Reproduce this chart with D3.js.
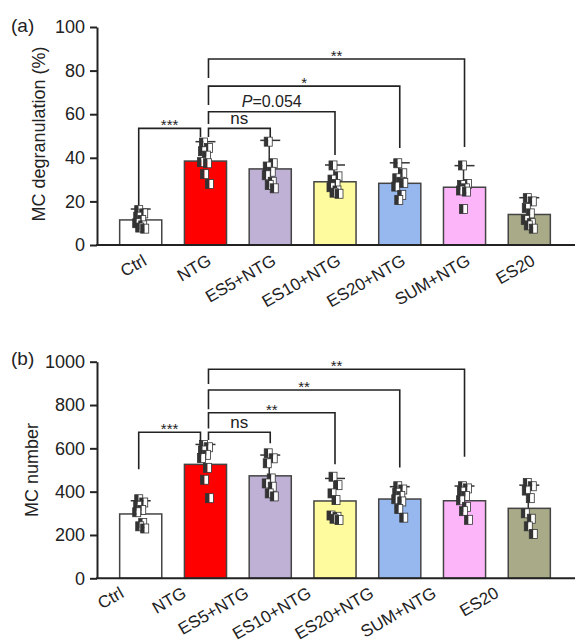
<!DOCTYPE html>
<html>
<head>
<meta charset="utf-8">
<script src="https://cdn.jsdelivr.net/npm/d3@7"></script>
<style>
  body { margin: 0; background: #fff; }
  text { font-family: "Liberation Sans", Arial, sans-serif; fill: #222; }
</style>
</head>
<body>
<div id="chart"></div>
<script>
// groups and bar colours
var groups = ["Ctrl", "NTG", "ES5+NTG", "ES10+NTG", "ES20+NTG", "SUM+NTG", "ES20"];
var colors = ["#ffffff", "#ff0000", "#bfb1d5", "#fdfb9e", "#97b8ee", "#fdb5fa", "#a9aa88"];

// (a) MC degranulation (%)
var degMean = [11.5, 38.5, 34.9, 29, 28.3, 26.5, 14];
var degSD = [5, 8.9, 13.1, 7.7, 9.4, 9.9, 7.7];
var degPoints = [
  [16, 14.5, 13, 11.5, 10, 9, 8, 7.5],
  [47, 44.5, 43, 41, 38, 37.5, 32.5, 28],
  [47.4, 37.5, 36, 33.6, 32, 29, 27.5, 26],
  [36.5, 31.5, 30, 28, 26.5, 25, 24, 23.5],
  [37.5, 32.9, 30.6, 29, 26.8, 23, 20.6, 28.5],
  [36.5, 28, 27.5, 26, 25, 24.5, 16.5],
  [21.5, 20, 17, 14.5, 11.5, 10, 9, 7.5]
];
var degTicks = [0, 20, 40, 60, 80, 100];
var degBrackets = [
  {from: "Ctrl", to: "NTG", y: 53.5, left: 18.3, right: 49.5, label: "***"},
  {from: "NTG", to: "ES5+NTG", y: 53.5, left: 49.5, right: 49.5, label: "ns"},
  {from: "NTG", to: "ES10+NTG", y: 61.1, left: 55.5, right: 41.3, label: "P=0.054"},
  {from: "NTG", to: "ES20+NTG", y: 72.9, left: 64.2, right: 44.5, label: "*"},
  {from: "NTG", to: "SUM+NTG", y: 85.3, left: 76.6, right: 45, label: "**"}
];

// (b) MC number
var numMean = [297, 526, 473, 357, 366, 358, 323];
var numSD = [61, 92, 96, 104, 57, 68, 107];
var numPoints = [
  [365, 350, 335, 315, 305, 255, 240, 230],
  [615, 605, 590, 570, 555, 510, 455, 370],
  [577, 554, 531, 461, 438, 423, 392, 378],
  [469, 430, 392, 361, 290, 284, 275, 269],
  [425, 410, 395, 380, 365, 355, 320, 280],
  [425, 415, 400, 380, 360, 330, 310, 270],
  [440, 425, 405, 370, 300, 275, 240, 205]
];
var numTicks = [0, 200, 400, 600, 800, 1000];
var numBrackets = [
  {from: "Ctrl", to: "NTG", y: 674, left: 504, right: 634, label: "***"},
  {from: "NTG", to: "ES5+NTG", y: 674, left: 638, right: 624, label: "ns"},
  {from: "NTG", to: "ES10+NTG", y: 764, left: 692, right: 527, label: "**"},
  {from: "NTG", to: "ES20+NTG", y: 869, left: 781, right: 512, label: "**"},
  {from: "NTG", to: "SUM+NTG", y: 965, left: 897, right: 561, label: "**"}
];

// small horizontal scatter of the dots
var jitter = [-2, 3, -3, 1, -4, 2, -1, 4];

var width = 575, height = 643;

var svg = d3.select("#chart")
  .append("svg")
    .attr("width", width)
    .attr("height", height);

var x = d3.scaleBand()
  .domain(groups)
  .range([97, 573])
  .padding(0.35);

function drawPanel(o) {
  var g = svg.append("g");

  var y = d3.scaleLinear()
    .domain([0, o.max])
    .range([o.bottom, o.top]);

  // bars
  g.selectAll("rect.bar")
    .data(groups)
    .enter()
    .append("rect")
      .attr("class", "bar")
      .attr("x", function(d) { return x(d); })
      .attr("y", function(d, i) { return y(o.mean[i]); })
      .attr("width", x.bandwidth())
      .attr("height", function(d, i) { return o.bottom - y(o.mean[i]); })
      .attr("fill", function(d, i) { return colors[i]; })
      .attr("stroke", "#444")
      .attr("stroke-width", 1.5);

  // error bars (upper half only)
  var eb = g.selectAll("g.err")
    .data(groups)
    .enter()
    .append("g");
  eb.append("line")
    .attr("x1", function(d) { return x(d) + x.bandwidth() / 2 - 1; })
    .attr("x2", function(d) { return x(d) + x.bandwidth() / 2 - 1; })
    .attr("y1", function(d, i) { return y(o.mean[i]); })
    .attr("y2", function(d, i) { return y(o.mean[i] + o.sd[i]); })
    .attr("stroke", "#333").attr("stroke-width", 1.5);
  eb.append("line")
    .attr("x1", function(d) { return x(d) + x.bandwidth() / 2 - 10; })
    .attr("x2", function(d) { return x(d) + x.bandwidth() / 2 + 10; })
    .attr("y1", function(d, i) { return y(o.mean[i] + o.sd[i]); })
    .attr("y2", function(d, i) { return y(o.mean[i] + o.sd[i]); })
    .attr("stroke", "#333").attr("stroke-width", 1.5);

  // individual points: half dark / half white squares
  var pts = [];
  o.points.forEach(function(arr, gi) {
    arr.forEach(function(v, j) { pts.push({g: groups[gi], v: v, j: jitter[j % jitter.length]}); });
  });
  var m = g.selectAll("g.pt")
    .data(pts)
    .enter()
    .append("g")
      .attr("transform", function(d) {
        return "translate(" + (x(d.g) + x.bandwidth() / 2 + d.j - 4) + "," + (y(d.v) - 4.5) + ")";
      });
  m.append("rect").attr("width", 4).attr("height", 9).attr("fill", "#333");
  m.append("rect").attr("x", 4).attr("width", 4).attr("height", 9).attr("fill", "#fff");
  m.append("rect").attr("width", 8).attr("height", 9)
    .attr("fill", "none").attr("stroke", "#333").attr("stroke-width", 0.8);

  // significance brackets
  var cx = function(d) { return x(d) + x.bandwidth() / 2; };
  o.brackets.forEach(function(b) {
    var x1 = cx(b.from) + (b.from === "NTG" ? 3 : -2);
    var x2 = cx(b.to) + (b.to === "NTG" ? -5 : 0);
    g.append("path")
      .attr("d", "M" + x1 + "," + y(b.left) + "V" + y(b.y) + "H" + x2 + "V" + y(b.right))
      .attr("fill", "none")
      .attr("stroke", "#222")
      .attr("stroke-width", 1.6);
    var t = g.append("text")
      .attr("x", (x1 + x2) / 2)
      .attr("text-anchor", "middle");
    if (b.label.indexOf("*") === 0) {
      t.attr("y", y(b.y) + 2).attr("font-size", 15).text(b.label);
    } else if (b.label.indexOf("P=") === 0) {
      t.attr("y", y(b.y) - 5).attr("font-size", 16);
      t.append("tspan").attr("font-style", "italic").text("P");
      t.append("tspan").text(b.label.slice(1));
    } else {
      t.attr("y", y(b.y) - 4.5).attr("font-size", 17).text(b.label);
    }
  });

  // y axis
  var ya = g.append("g")
    .attr("transform", "translate(97,0)")
    .call(d3.axisLeft(y).tickValues(o.ticks).tickFormat(d3.format("d"))
      .tickSize(7).tickSizeOuter(0).tickPadding(5));
  ya.select(".domain").attr("stroke", "#222").attr("stroke-width", 2);
  ya.selectAll(".tick line").attr("stroke", "#222").attr("stroke-width", 2);
  ya.selectAll(".tick text")
    .attr("font-size", 18)
    .attr("font-family", "Liberation Sans, Arial, sans-serif")
    .attr("fill", "#222");

  // x axis line
  g.append("line")
    .attr("x1", 96).attr("x2", 575)
    .attr("y1", o.bottom).attr("y2", o.bottom)
    .attr("stroke", "#222").attr("stroke-width", 2);

  // category labels
  g.selectAll("text.cat")
    .data(groups)
    .enter()
    .append("text")
      .attr("class", "cat")
      .attr("text-anchor", "end")
      .attr("font-size", 17)
      .attr("transform", function(d) {
        return "translate(" + o.labelX(d) + "," + (o.bottom + o.labelDy) + ") rotate(-30)";
      })
      .text(function(d) { return d; });

  // y label
  g.append("text")
    .attr("text-anchor", "middle")
    .attr("font-size", 18)
    .attr("transform", "translate(" + o.ylabX + "," + o.ylabY + ") rotate(-90)")
    .text(o.ylabel);

  // panel letter
  g.append("text")
    .attr("x", 11)
    .attr("y", o.letterY)
    .attr("font-size", 19)
    .text(o.letter);
}

drawPanel({
  top: 27, bottom: 245, max: 100, ticks: degTicks,
  mean: degMean, sd: degSD, points: degPoints, brackets: degBrackets,
  labelX: function(d) { return x(d) + x.bandwidth() / 2 + 7; },
  labelDy: 19,
  ylabel: "MC degranulation (%)", ylabX: 45, ylabY: 134,
  letter: "(a)", letterY: 32
});

// labels of the lower panel sit on a tighter spacing
var xLab = d3.scalePoint().domain(groups).range([125, 500]);

drawPanel({
  top: 361.7, bottom: 578.3, max: 1000, ticks: numTicks,
  mean: numMean, sd: numSD, points: numPoints, brackets: numBrackets,
  labelX: function(d) { return xLab(d); },
  labelDy: 18,
  ylabel: "MC number", ylabX: 38, ylabY: 470,
  letter: "(b)", letterY: 365
});
</script>
</body>
</html>
